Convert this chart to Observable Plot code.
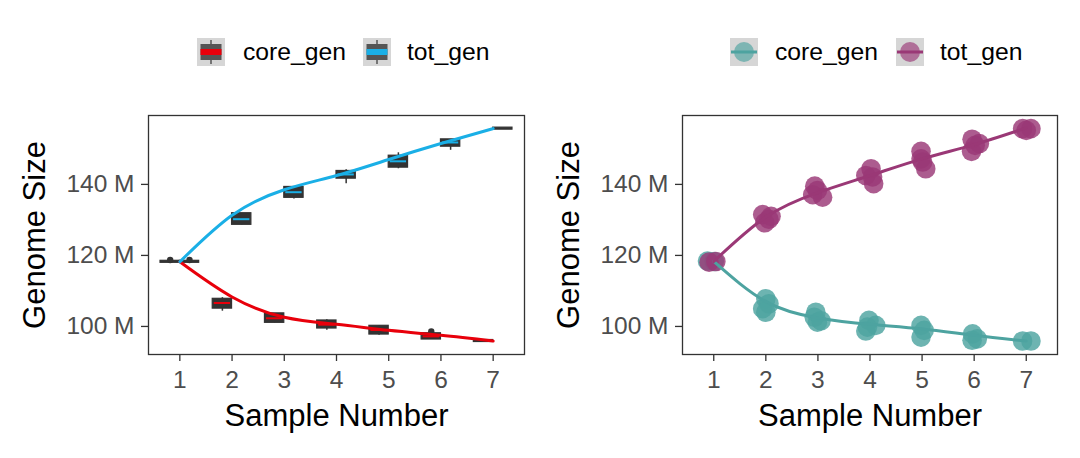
<!DOCTYPE html>
<html>
<head>
<meta charset="utf-8">
<script src="https://cdn.jsdelivr.net/npm/d3@7"></script>
<script src="https://cdn.jsdelivr.net/npm/@observablehq/plot@0.6"></script>
<style>
  html, body { margin: 0; padding: 0; background: #fff; }
  #chart { position: relative; width: 1080px; height: 458px; display: flex; font-family: "Liberation Sans", Arial, sans-serif; }
  .panel { position: relative; width: 540px; height: 458px; }
  .legend { position: relative; height: 95px; }
  .key { position: absolute; top: 38px; width: 28px; height: 28px; }
  .lab { position: absolute; top: 36px; height: 32px; line-height: 32px; font-size: 24.7px; color: #000; white-space: nowrap; }
  svg { display: block; }
</style>
</head>
<body>
<div id="chart">
  <div class="panel" id="left">
    <div class="legend" id="legendL"></div>
  </div>
  <div class="panel" id="right">
    <div class="legend" id="legendR"></div>
  </div>
</div>
<script>
// ---------- data ----------
const samples = [1, 2, 3, 4, 5, 6, 7];
const groups = ["core_gen", "tot_gen"];
const yTicks = [100, 120, 140];

// left panel: boxplot statistics (millions)
const coreQ1   = [118.2, 105.3, 101.3,  99.7,  98.0,  96.6, 95.9];
const coreMed  = [118.2, 106.6, 102.3, 100.5,  99.0,  97.2, 95.9];
const coreQ3   = [118.2, 107.5, 103.4, 101.4,  99.9,  97.8, 95.9];
const coreLow  = [118.2, 104.3, 101.0,  98.9,  97.5,  96.4, 95.9];
const coreHigh = [118.2, 108.1, 103.6, 101.9, 100.2,  97.9, 95.9];
const totQ1    = [118.2, 128.9, 136.5, 141.9, 145.0, 150.9, 155.7];
const totMed   = [118.2, 130.2, 137.8, 142.8, 146.5, 151.8, 155.7];
const totQ3    = [118.2, 131.6, 139.0, 143.5, 147.8, 152.4, 155.7];
const totLow   = [118.2, 128.6, 135.9, 140.2, 144.4, 149.6, 155.7];
const totHigh  = [118.2, 131.8, 139.2, 144.1, 148.9, 152.6, 155.7];
const outlierGroup  = ["core_gen", "core_gen", "tot_gen"];
const outlierSample = [1, 6, 1];
const outlierValue  = [118.7, 98.6, 118.7];
const coreSmoothL = [118.2, 108.3, 102.6, 100.6, 98.9, 97.5, 95.9];
const totSmoothL  = [118.2, 131.3, 138.5, 142.5, 147.0, 151.5, 155.7];

// right panel: individual points (jittered sample position, genome size in millions)
const corePointX = [0.88, 1.01, 2.00, 1.94, 2.06, 2.00, 2.96, 2.99, 2.93, 3.06, 3.98, 3.92, 4.11, 3.95, 4.98, 4.98, 5.04, 5.97, 6.06, 5.96, 6.93, 7.09];
const corePointY = [118.4, 118.3, 107.8, 105.0, 106.4, 104.0, 104.0, 101.2, 102.6, 101.6, 101.7, 98.7, 100.3, 99.8, 100.3, 97.0, 98.9, 97.9, 96.5, 96.1, 95.9, 95.9];
const totPointX  = [0.91, 1.04, 1.94, 1.98, 2.06, 2.10, 2.94, 2.90, 3.09, 2.99, 4.02, 3.92, 4.07, 4.05, 4.98, 4.98, 5.07, 5.01, 5.96, 6.10, 5.95, 6.02, 6.93, 7.09, 7.00];
const totPointY  = [118.1, 118.3, 131.5, 129.2, 130.2, 131.0, 139.5, 137.1, 136.4, 138.3, 144.4, 142.5, 140.2, 142.1, 149.3, 147.2, 144.4, 146.3, 152.7, 151.5, 149.3, 151.0, 155.7, 155.7, 155.2];
const coreSmoothR = [118.3, 107.0, 102.4, 100.6, 99.3, 97.5, 95.9];
const totSmoothR  = [118.3, 130.8, 137.7, 142.5, 147.2, 151.2, 155.9];

// ---------- styles ----------
const boxColors = ["#E8000B", "#1AAFE6"];
const ptColors  = ["#4DA3A0", "#9A3876"];
const FONT = "'Liberation Sans', Arial, sans-serif";
const xDomain = [0.4, 7.6];
const yDomain = [92.1, 159.4];
const boxW = 0.37;

// ---------- derived tables ----------
const boxes = samples.flatMap((s, i) => [
  {sample: s, group: "core_gen", q1: coreQ1[i], med: coreMed[i], q3: coreQ3[i], lo: coreLow[i], hi: coreHigh[i]},
  {sample: s, group: "tot_gen",  q1: totQ1[i],  med: totMed[i],  q3: totQ3[i],  lo: totLow[i],  hi: totHigh[i]}
]);
const outliers = outlierValue.map((v, i) => ({sample: outlierSample[i], group: outlierGroup[i], value: v}));
const smoothL = groups.flatMap(g => samples.map((s, i) => ({sample: s, group: g, value: (g === "core_gen" ? coreSmoothL : totSmoothL)[i]})));
const smoothR = groups.flatMap(g => samples.map((s, i) => ({sample: s, group: g, value: (g === "core_gen" ? coreSmoothR : totSmoothR)[i]})));
const points = [
  ...corePointX.map((x, i) => ({x, y: corePointY[i], group: "core_gen"})),
  ...totPointX.map((x, i) => ({x, y: totPointY[i], group: "tot_gen"}))
];
const bx1 = d => d.group === "core_gen" ? d.sample - boxW : d.sample;
const bx2 = d => d.group === "core_gen" ? d.sample : d.sample + boxW;
const bxc = d => d.group === "core_gen" ? d.sample - boxW / 2 : d.sample + boxW / 2;

function commonMarks() {
  return [
    Plot.axisX(samples, {tickSize: 7, tickPadding: 9, fontSize: 24.5, label: null, stroke: "#333", fill: "#4D4D4D", strokeWidth: 1.3}),
    Plot.axisY(yTicks, {tickSize: 7, tickPadding: 7, fontSize: 24.5, label: null, stroke: "#333", fill: "#4D4D4D", strokeWidth: 1.3, tickFormat: d => `${d} M`}),
    Plot.text(["Sample Number"], {text: d => d, frameAnchor: "bottom", dy: 62, fontSize: 31, fill: "#000", lineAnchor: "middle", textAnchor: "middle"}),
    Plot.text(["Genome Size"], {text: d => d, frameAnchor: "left", dx: -113, rotate: -90, fontSize: 31, fill: "#000", lineAnchor: "middle", textAnchor: "middle"}),
    Plot.frame({stroke: "#333", strokeWidth: 1.3})
  ];
}

const left = Plot.plot({
  width: 540, height: 363,
  marginTop: 20, marginBottom: 104, marginLeft: 148, marginRight: 16,
  style: {fontFamily: FONT, color: "#333", background: "#fff", overflow: "visible"},
  x: {domain: xDomain, axis: null},
  y: {domain: yDomain, axis: null},
  color: {domain: groups, range: boxColors},
  marks: [
    Plot.ruleX(boxes, {x: bxc, y1: "lo", y2: "hi", stroke: "#333", strokeWidth: 1.5}),
    Plot.rect(boxes, {x1: bx1, x2: bx2, y1: "q1", y2: "q3", fill: "#333", stroke: "#333", strokeWidth: 1.2, insetTop: -1, insetBottom: -1}),
    Plot.ruleY(boxes.filter(d => d.q3 > d.q1), {y: "med", x1: bx1, x2: bx2, stroke: "group", strokeWidth: 2, insetLeft: 1.5, insetRight: 1.5}),
    Plot.dot(outliers, {x: bxc, y: "value", r: 3.2, fill: "#333", stroke: "none"}),
    Plot.line(smoothL, {x: "sample", y: "value", z: "group", stroke: "group", strokeWidth: 3, curve: "natural"}),
    ...commonMarks()
  ]
});

const right = Plot.plot({
  width: 540, height: 363,
  marginTop: 20, marginBottom: 104, marginLeft: 142, marginRight: 23,
  style: {fontFamily: FONT, color: "#333", background: "#fff", overflow: "visible"},
  x: {domain: xDomain, axis: null},
  y: {domain: yDomain, axis: null},
  color: {domain: groups, range: ptColors},
  marks: [
    Plot.dot(points, {x: "x", y: "y", r: 9.8, fill: "group", fillOpacity: 0.82, stroke: "none"}),
    Plot.line(smoothR, {x: "sample", y: "value", z: "group", stroke: "group", strokeWidth: 3, curve: "natural"}),
    ...commonMarks()
  ]
});

document.getElementById("left").appendChild(left);
document.getElementById("right").appendChild(right);

// ---------- legends ----------
function boxKey(color) {
  return `<svg class="key" viewBox="0 0 28 28" width="28" height="28">
    <rect width="28" height="28" fill="#D6D6D6"/>
    <line x1="14" x2="14" y1="2" y2="26" stroke="#555" stroke-width="1.5"/>
    <rect x="3.5" y="6" width="21" height="16" fill="#555"/>
    <rect x="3.5" y="11" width="21" height="6" fill="${color}"/>
  </svg>`;
}
function dotKey(color) {
  return `<svg class="key" viewBox="0 0 28 28" width="28" height="28">
    <rect width="28" height="28" fill="#D6D6D6"/>
    <circle cx="14" cy="14" r="10" fill="${color}" fill-opacity="0.65"/>
    <line x1="1" x2="27" y1="14" y2="14" stroke="${color}" stroke-width="3"/>
  </svg>`;
}
function legend(el, keyFn, colors, keyX, labX) {
  el.innerHTML = groups.map((g, i) =>
    keyFn(colors[i]).replace('class="key"', `class="key" style="left:${keyX[i]}px"`) +
    `<span class="lab" style="left:${labX[i]}px">${g}</span>`).join("");
}
legend(document.getElementById("legendL"), boxKey, boxColors, [197, 363], [243, 407]);
legend(document.getElementById("legendR"), dotKey, ptColors, [190, 356], [235, 400]);
</script>
</body>
</html>
